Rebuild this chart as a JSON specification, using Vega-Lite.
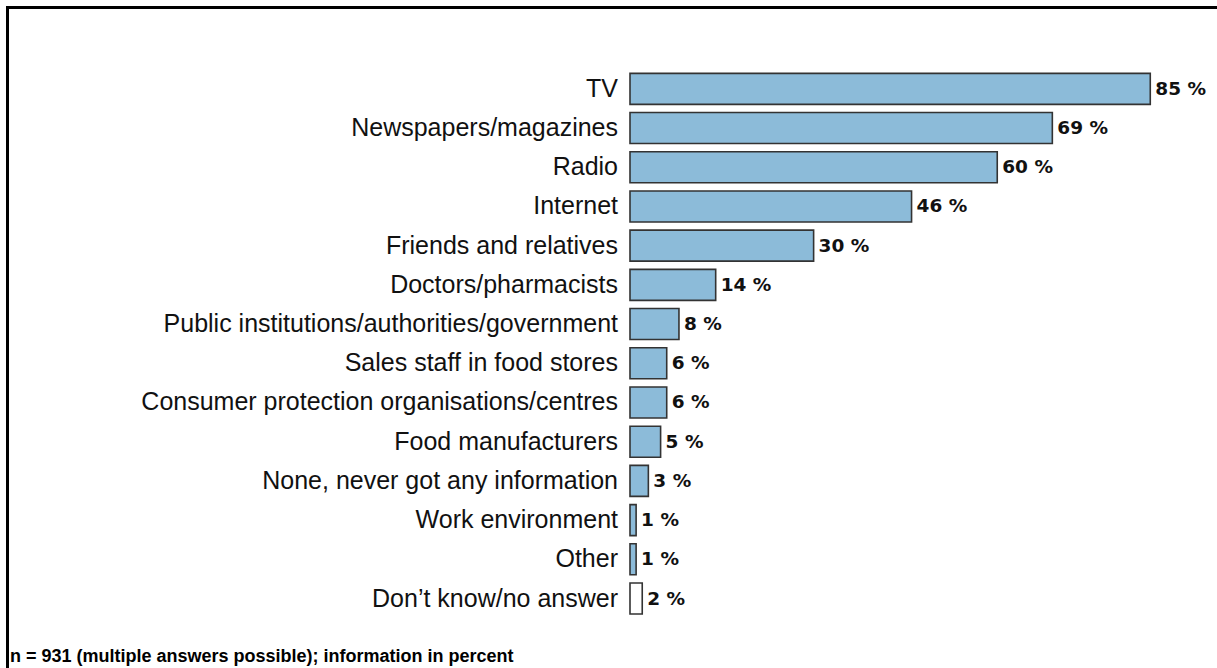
{
  "$schema": "https://vega.github.io/schema/vega-lite/v6.json",
  "width": 1215,
  "height": 670,
  "autosize": "none",
  "padding": {"left": 7.5, "top": 7.5, "right": 0, "bottom": 0},
  "background": "white",
  "config": {"view": {"stroke": "#000000", "strokeWidth": 3}, "font": "Liberation Sans"},
  "datasets": {
    "items": [
      {"rank": 1, "category": "TV", "value": 85},
      {"rank": 2, "category": "Newspapers/magazines", "value": 69},
      {"rank": 3, "category": "Radio", "value": 60},
      {"rank": 4, "category": "Internet", "value": 46},
      {"rank": 5, "category": "Friends and relatives", "value": 30},
      {"rank": 6, "category": "Doctors/pharmacists", "value": 14},
      {"rank": 7, "category": "Public institutions/authorities/government", "value": 8},
      {"rank": 8, "category": "Sales staff in food stores", "value": 6},
      {"rank": 9, "category": "Consumer protection organisations/centres", "value": 6},
      {"rank": 10, "category": "Food manufacturers", "value": 5},
      {"rank": 11, "category": "None, never got any information", "value": 3},
      {"rank": 12, "category": "Work environment", "value": 1},
      {"rank": 13, "category": "Other", "value": 1},
      {"rank": 14, "category": "Don’t know/no answer", "value": 2}
    ],
    "notes": [
      {"note": "n = 931 (multiple answers possible); information in percent", "xpos": -101.3, "ypos": 15.62}
    ]
  },
  "layer": [
    {
      "data": {"name": "items"},
      "mark": {"type": "bar", "height": 31, "stroke": "#333333", "strokeWidth": 1.6},
      "encoding": {
        "y": {"field": "rank", "type": "quantitative", "scale": {"domain": [-0.947, 15.887], "reverse": true, "nice": false, "zero": false}, "axis": null},
        "x": {"field": "value", "type": "quantitative", "scale": {"domain": [-101.7, 96.8], "nice": false, "zero": false}, "axis": null},
        "x2": {"datum": 0},
        "color": {"condition": {"test": "datum.rank === 14", "value": "#ffffff"}, "value": "#8cbbd9"}
      }
    },
    {
      "data": {"name": "items"},
      "mark": {"type": "text", "align": "right", "baseline": "middle", "dx": -12, "fontSize": 25, "color": "#111111"},
      "encoding": {
        "y": {"field": "rank", "type": "quantitative"},
        "x": {"datum": 0, "type": "quantitative"},
        "text": {"field": "category"}
      }
    },
    {
      "data": {"name": "items"},
      "transform": [{"calculate": "datum.value + ' %'", "as": "pct"}],
      "mark": {"type": "text", "align": "left", "baseline": "middle", "dx": 5, "fontSize": 18.5, "font": "DejaVu Sans", "fontWeight": "bold", "color": "#111111"},
      "encoding": {
        "y": {"field": "rank", "type": "quantitative"},
        "x": {"field": "value", "type": "quantitative"},
        "text": {"field": "pct"}
      }
    },
    {
      "data": {"name": "notes"},
      "mark": {"type": "text", "align": "left", "baseline": "alphabetic", "fontSize": 18, "fontWeight": "bold", "color": "#000000"},
      "encoding": {
        "x": {"field": "xpos", "type": "quantitative"},
        "y": {"field": "ypos", "type": "quantitative"},
        "text": {"field": "note"}
      }
    }
  ]
}
